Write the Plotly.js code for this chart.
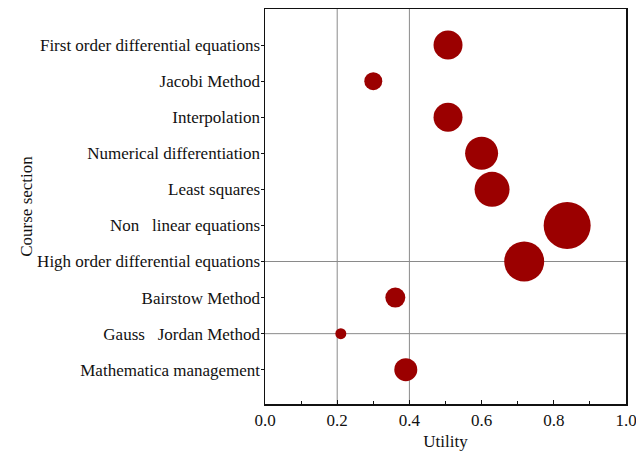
<!DOCTYPE html>
<html>
<head>
<meta charset="utf-8">
<script src="https://cdn.plot.ly/plotly-3.0.1.min.js"></script>
<style>html,body{margin:0;padding:0;background:#fff;}#chart{width:636px;height:452px;}</style>
</head>
<body>
<div id="chart"></div>
<script>
var categories = [
  "First order differential equations",
  "Jacobi Method",
  "Interpolation",
  "Numerical differentiation",
  "Least squares",
  "Non   linear equations",
  "High order differential equations",
  "Bairstow Method",
  "Gauss   Jordan Method",
  "Mathematica management"
];
var utility = [0.507, 0.30, 0.507, 0.60, 0.629, 0.837, 0.718, 0.361, 0.21, 0.39];
var bubbleSize = [29, 18, 29, 33, 35, 47, 40, 20, 11, 23];
var xRefLines = [0.2, 0.4];
var yRefLines = ["High order differential equations", "Gauss   Jordan Method"];
var xTicks = [0, 0.2, 0.4, 0.6, 0.8, 1.0];
var xTickText = ["0.0", "0.2", "0.4", "0.6", "0.8", "1.0"];

var shapes = [];
xRefLines.forEach(function(v){
  shapes.push({type:"line", xref:"x", yref:"paper", x0:v, x1:v, y0:0, y1:1,
    line:{color:"#8a8a8a", width:1}, layer:"below"});
});
yRefLines.forEach(function(c){
  shapes.push({type:"line", xref:"paper", yref:"y", x0:0, x1:1, y0:c, y1:c,
    line:{color:"#8a8a8a", width:1}, layer:"below"});
});

var trace = {
  type:"scatter", mode:"markers",
  x: utility, y: categories,
  marker:{size: bubbleSize, sizemode:"diameter", color:"#9b0000", line:{width:0}, opacity:1},
  hoverinfo:"x+y"
};

var font = {family:"Liberation Serif, Times New Roman, serif", size:17, color:"#111"};
var layout = {
  width:636, height:452,
  margin:{l:265, r:10, t:9, b:48},
  paper_bgcolor:"#fff", plot_bgcolor:"#fff",
  font: font,
  showlegend:false,
  shapes: shapes,
  xaxis:{
    range:[0, 1.0], tickvals:xTicks, ticktext:xTickText,
    showgrid:false, zeroline:false,
    showline:true, linecolor:"#111", linewidth:1.5, mirror:true,
    ticks:"inside", ticklen:4, tickcolor:"#111",
    minor:{dtick:0.1, ticks:"inside", ticklen:3, tickcolor:"#111", showgrid:false},
    tickfont:font,
    ticklabeloverflow:"allow",
    title:{text:"Utility", font:font, standoff:6}
  },
  yaxis:{
    type:"category", categoryorder:"array", categoryarray:categories,
    range:[9.95, -1],
    showgrid:false, zeroline:false,
    showline:true, linecolor:"#111", linewidth:1.5, mirror:true,
    ticks:"outside", ticklen:3, tickcolor:"#111",
    ticklabelstandoff:-3,
    tickfont:font,
    ticklabeloverflow:"allow",
    automargin:false,
    title:{text:"Course section", font:font, standoff:0}
  }
};

Plotly.newPlot("chart", [trace], layout, {displayModeBar:false, staticPlot:true});
</script>
</body>
</html>
